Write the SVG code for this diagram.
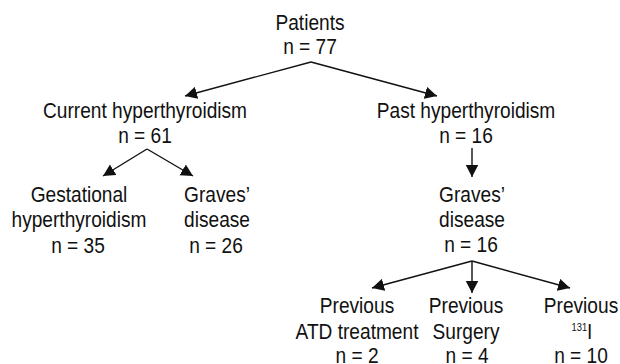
<svg xmlns="http://www.w3.org/2000/svg" width="620" height="364" viewBox="0 0 620 364">
<style>
text{font-family:"Liberation Sans",Arial,sans-serif;font-size:22.5px;fill:#111;text-anchor:middle}
.sup{font-size:11px}
.c line{stroke:#111;stroke-width:1.4;fill:none;marker-end:url(#ah)}
</style>
<defs>
<marker id="ah" markerUnits="userSpaceOnUse" markerWidth="13" markerHeight="13" refX="12" refY="6.25" orient="auto">
<path d="M0,0 L12,6.25 L0,12.5 z" fill="#111"/>
</marker>
</defs>
<rect width="620" height="364" fill="#fff"/>
<g class="c" id="connectors">
<line x1="311" y1="62" x2="185" y2="96"/>
<line x1="311" y1="62" x2="437" y2="96"/>
<line x1="147" y1="149" x2="103" y2="176"/>
<line x1="147" y1="149" x2="193" y2="176"/>
<line x1="472" y1="148" x2="472" y2="177"/>
<line x1="472" y1="261" x2="372" y2="288"/>
<line x1="472" y1="261" x2="472" y2="293"/>
<line x1="472" y1="261" x2="570" y2="288"/>
</g>
<g id="patients"><text transform="matrix(0.85 0 0 1 310 0)" y="30">Patients</text><text transform="matrix(0.85 0 0 1 310 0)" y="54">n = 77</text></g>
<g id="current"><text transform="matrix(0.85 0 0 1 145 0)" y="118">Current hyperthyroidism</text><text transform="matrix(0.85 0 0 1 145 0)" y="143">n = 61</text></g>
<g id="past"><text transform="matrix(0.85 0 0 1 466 0)" y="118">Past hyperthyroidism</text><text transform="matrix(0.85 0 0 1 466 0)" y="143">n = 16</text></g>
<g id="gestational"><text transform="matrix(0.85 0 0 1 79 0)" y="202">Gestational</text><text transform="matrix(0.85 0 0 1 79 0)" y="227">hyperthyroidism</text><text transform="matrix(0.85 0 0 1 78 0)" y="253">n = 35</text></g>
<g id="graves1"><text transform="matrix(0.85 0 0 1 217 0)" y="202">Graves’</text><text transform="matrix(0.85 0 0 1 217 0)" y="227">disease</text><text transform="matrix(0.85 0 0 1 216 0)" y="253">n = 26</text></g>
<g id="graves2"><text transform="matrix(0.85 0 0 1 472 0)" y="202">Graves’</text><text transform="matrix(0.85 0 0 1 472 0)" y="227">disease</text><text transform="matrix(0.85 0 0 1 471 0)" y="252">n = 16</text></g>
<g id="atd"><text transform="matrix(0.85 0 0 1 357 0)" y="313">Previous</text><text transform="matrix(0.85 0 0 1 357 0)" y="339">ATD treatment</text><text transform="matrix(0.85 0 0 1 357 0)" y="363">n = 2</text></g>
<g id="surgery"><text transform="matrix(0.85 0 0 1 466 0)" y="313">Previous</text><text transform="matrix(0.85 0 0 1 466 0)" y="339">Surgery</text><text transform="matrix(0.85 0 0 1 467 0)" y="363">n = 4</text></g>
<g id="iodine"><text transform="matrix(0.85 0 0 1 581 0)" y="313">Previous</text><text transform="matrix(0.85 0 0 1 582 0)" y="339"><tspan class="sup" dy="-8">131</tspan><tspan dy="8">I</tspan></text><text transform="matrix(0.85 0 0 1 581 0)" y="363">n = 10</text></g>
</svg>
